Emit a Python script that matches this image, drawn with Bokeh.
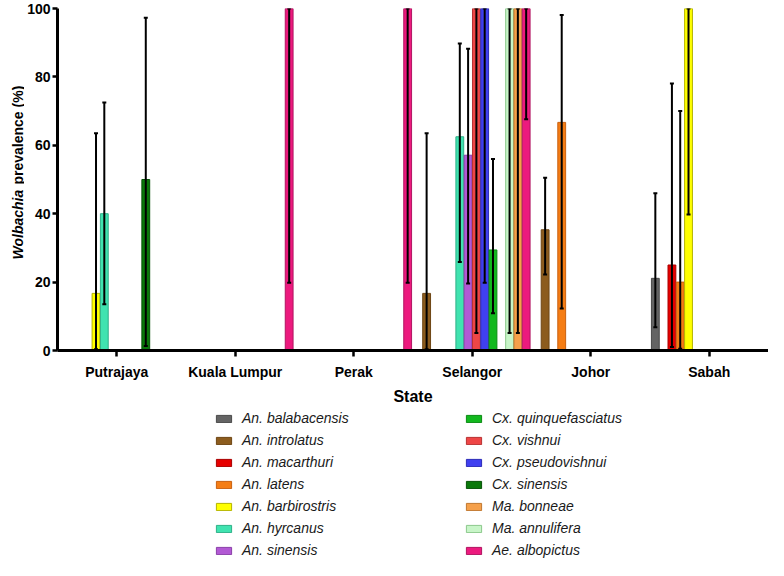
import math
from bokeh.plotting import figure
from bokeh.layouts import row, column
from bokeh.models import (ColumnDataSource, FactorRange, Range1d, Whisker, TeeHead,
                          Legend, LegendItem, FixedTicker)
from bokeh.core.properties import value
from bokeh.transform import dodge
from bokeh.embed import file_html
from bokeh.resources import INLINE

# ---------------- data ----------------
states = ["Putrajaya", "Kuala Lumpur", "Perak", "Selangor", "Johor", "Sabah"]

# species in bar (dodge) order within each state group
species = ["An. balabacensis", "An. introlatus", "An. macarthuri", "An. latens",
           "An. barbirostris", "An. hyrcanus", "An. sinensis", "Cx. vishnui",
           "Cx. pseudovishnui", "Cx. quinquefasciatus", "Cx. sinensis",
           "Ma. annulifera", "Ma. bonneae", "Ae. albopictus"]

# legend order (two columns)
legend_left = ["An. balabacensis", "An. introlatus", "An. macarthuri", "An. latens",
               "An. barbirostris", "An. hyrcanus", "An. sinensis"]
legend_right = ["Cx. quinquefasciatus", "Cx. vishnui", "Cx. pseudovishnui",
                "Cx. sinensis", "Ma. bonneae", "Ma. annulifera", "Ae. albopictus"]

fill_colors = {
    "An. balabacensis": "#646464", "An. introlatus": "#8C5C1E",
    "An. macarthuri": "#E60000", "An. latens": "#F57D14",
    "An. barbirostris": "#FFFF00", "An. hyrcanus": "#40E3B0",
    "An. sinensis": "#B259D4", "Cx. quinquefasciatus": "#12B81E",
    "Cx. vishnui": "#EE4646", "Cx. pseudovishnui": "#4040F0",
    "Cx. sinensis": "#0A780A", "Ma. bonneae": "#F5A04A",
    "Ma. annulifera": "#C8F5C8", "Ae. albopictus": "#EC1A7E",
}
edge_colors = {
    "An. balabacensis": "#4A4A4A", "An. introlatus": "#6E4614",
    "An. macarthuri": "#A80000", "An. latens": "#C86010",
    "An. barbirostris": "#B4B400", "An. hyrcanus": "#2EB088",
    "An. sinensis": "#8A40A8", "Cx. quinquefasciatus": "#0C8A14",
    "Cx. vishnui": "#B83232", "Cx. pseudovishnui": "#2C2CB8",
    "Cx. sinensis": "#065206", "Ma. bonneae": "#C07830",
    "Ma. annulifera": "#8CC88C", "Ae. albopictus": "#B01460",
}

bar_state = ["Putrajaya", "Putrajaya", "Putrajaya",
             "Kuala Lumpur", "Perak",
             "Selangor", "Selangor", "Selangor", "Selangor", "Selangor",
             "Selangor", "Selangor", "Selangor", "Selangor",
             "Johor", "Johor",
             "Sabah", "Sabah", "Sabah", "Sabah"]
bar_species = ["An. barbirostris", "An. hyrcanus", "Cx. sinensis",
               "Ae. albopictus", "Ae. albopictus",
               "An. introlatus", "An. hyrcanus", "An. sinensis", "Cx. vishnui",
               "Cx. pseudovishnui", "Cx. quinquefasciatus", "Ma. annulifera",
               "Ma. bonneae", "Ae. albopictus",
               "An. introlatus", "An. latens",
               "An. balabacensis", "An. macarthuri", "An. latens", "An. barbirostris"]
bar_value = [16.7, 40.0, 50.0,
             100.0, 100.0,
             16.7, 62.5, 57.1, 100.0, 100.0, 29.4, 100.0, 100.0, 100.0,
             35.3, 66.7,
             21.1, 25.0, 20.0, 100.0]
err_low = [0.4, 13.5, 1.3,
           19.8, 19.8,
           0.4, 25.9, 19.6, 5.1, 19.8, 10.9, 5.1, 5.1, 67.6,
           22.2, 12.3,
           6.8, 1.0, 0.5, 39.8]
err_high = [63.5, 72.5, 97.3,
            100.0, 100.0,
            63.5, 89.8, 88.2, 100.0, 100.0, 56.0, 100.0, 100.0, 100.0,
            50.5, 98.1,
            46.0, 78.1, 70.0, 100.0]
y_ticks = [0, 20, 40, 60, 80, 100]
y_title_parts = ["Wolbachia", "prevalence (%)"]

FONT = "Liberation Sans"
W = 768
PH = 408   # height of plot row
LH = 152   # height of legend strip
LW = 24    # width of the y-title strip


def bare(fig):
    fig.outline_line_color = None
    fig.xgrid.visible = False
    fig.ygrid.visible = False
    fig.frame_align = False
    return fig


# ---------------- y title strip ----------------
yl = bare(figure(width=LW, height=PH, x_range=Range1d(0, LW), y_range=Range1d(0, PH),
                 output_backend="svg", toolbar_location=None,
                 x_axis_location=None, y_axis_location=None,
                 min_border_left=0, min_border_right=0,
                 min_border_top=0, min_border_bottom=0))
base_y = PH - 259
yl.text(x=[17], y=[base_y], text=[y_title_parts[0]], angle=math.pi / 2,
        text_font=value(FONT), text_font_style=value("bold italic"),
        text_font_size=value("14px"), text_align=value("left"),
        text_baseline=value("alphabetic"), text_color="black")
yl.text(x=[17], y=[base_y + 75], text=[y_title_parts[1]], angle=math.pi / 2,
        text_font=value(FONT), text_font_style=value("bold"),
        text_font_size=value("14px"), text_align=value("left"),
        text_baseline=value("alphabetic"), text_color="black")

# ---------------- main figure ----------------
p = bare(figure(x_range=FactorRange(*states), y_range=Range1d(0, 100),
                width=W - LW, height=PH, output_backend="svg", toolbar_location=None,
                min_border_left=55 - LW, min_border_right=0, min_border_top=8,
                min_border_bottom=PH - 350))
p.background_fill_color = "white"

step = 0.0700
bar_w = 0.066
for i, sp in enumerate(species):
    idx = [k for k, s in enumerate(bar_species) if s == sp]
    src = ColumnDataSource(dict(
        state=[bar_state[k] for k in idx],
        value=[bar_value[k] for k in idx],
        lower=[err_low[k] for k in idx],
        upper=[err_high[k] for k in idx],
    ))
    off = (i - (len(species) - 1) / 2) * step
    p.vbar(x=dodge("state", off, range=p.x_range), top="value", bottom=0,
           width=bar_w, source=src, fill_color=fill_colors[sp],
           line_color=edge_colors[sp], line_width=1)
    p.add_layout(Whisker(base=dodge("state", off, range=p.x_range), lower="lower",
                         upper="upper", source=src, line_color="black", line_width=2,
                         upper_head=TeeHead(size=4, line_width=2, line_color="black"),
                         lower_head=TeeHead(size=4, line_width=2, line_color="black"),
                         level="annotation"))

for ax in (p.xaxis[0], p.yaxis[0]):
    ax.axis_line_width = 3
    ax.axis_line_color = "black"
    ax.major_tick_line_width = 2.5
    ax.major_tick_line_color = "black"
    ax.major_tick_in = 0
    ax.minor_tick_line_color = None
    ax.major_label_text_font = FONT
    ax.major_label_text_font_style = "bold"
    ax.major_label_text_font_size = "14px"
    ax.major_label_text_color = "black"

p.xaxis.major_tick_out = 6
p.xaxis.major_label_standoff = 7
p.xaxis.axis_label = "State"
p.xaxis.axis_label_text_font = FONT
p.xaxis.axis_label_text_font_style = "bold"
p.xaxis.axis_label_text_font_size = "16px"
p.xaxis.axis_label_text_color = "black"
p.xaxis.axis_label_standoff = 5

p.yaxis.ticker = FixedTicker(ticks=y_ticks)
p.yaxis.major_tick_out = 5
p.yaxis.major_label_standoff = 2

# ---------------- legend strip ----------------
lf = bare(figure(width=W, height=LH, x_range=Range1d(0, 1), y_range=Range1d(0, 1),
                 output_backend="svg", toolbar_location=None,
                 x_axis_location=None, y_axis_location=None,
                 min_border_left=0, min_border_right=0,
                 min_border_top=0, min_border_bottom=0))
swatch = {}
for sp in species:
    # legend-only renderer: a zero-height bar kept outside the visible range
    swatch[sp] = lf.vbar(x=[-5], top=[0], width=0.1, fill_color=fill_colors[sp],
                         line_color=edge_colors[sp], line_width=1)


def make_legend(names, x):
    items = [LegendItem(label=n, renderers=[swatch[n]]) for n in names]
    return Legend(items=items, location=(x, 2), orientation="vertical",
                  glyph_width=19, glyph_height=9, label_standoff=9,
                  label_text_font=FONT, label_text_font_style="italic",
                  label_text_font_size="14px", label_text_color="#1a1a1a",
                  label_height=15, spacing=6, padding=0, margin=0,
                  border_line_color=None, background_fill_alpha=0)


lf.add_layout(make_legend(legend_left, 214))
lf.add_layout(make_legend(legend_right, 464))

layout = column(row(yl, p, spacing=0), lf, spacing=0)
open("out.html", "w").write(file_html(layout, INLINE))
